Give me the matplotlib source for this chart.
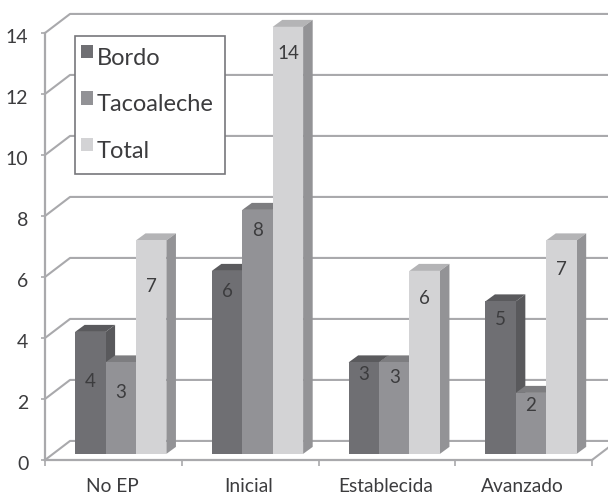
import matplotlib
matplotlib.use('Agg')
import matplotlib.pyplot as plt
from matplotlib.patches import Patch, Polygon, Rectangle
from matplotlib.transforms import ScaledTranslation

plt.rcParams['font.family'] = ['Lato', 'DejaVu Sans']

stages = ['No EP', 'Inicial', 'Establecida', 'Avanzado']
bordo = [4, 6, 3, 5]
tacoaleche = [3, 8, 3, 2]
total = [7, 14, 6, 7]
yticks = [0, 2, 4, 6, 8, 10, 12, 14]

# distance of each value label below its bar top, in points
label_drop = {
    'Bordo': [36, 15, 9, 13],
    'Tacoaleche': [22, 15, 11, 9],
    'Total': [33, 19, 20, 21],
}

GREY_LINE = '#a9a9ac'
GREY_TEXT = '#3c3c3e'

# fake 3d: wall offset and bar depth, in data units
WALL_DX, WALL_DY = 0.183, 0.625
BAR_DX, BAR_DY = 0.07, 0.23
FLOOR = 0.2
BAR_W = 0.2225
GROUP_START = 0.22


def drawWalls(ax):
    for y in yticks:
        xs = [0, WALL_DX, 4.3]
        ys = [y, y + WALL_DY, y + WALL_DY]
        ax.plot(xs, ys, color=GREY_LINE, lw=1.5, zorder=1, clip_on=False)
    # right end of the floor
    ax.plot([4, 4 + WALL_DX], [0, WALL_DY], color=GREY_LINE, lw=1.5, zorder=1, clip_on=False)


def drawSeries(ax, values, slot, front, top, side, z):
    lefts = [i + GROUP_START + slot * BAR_W for i in range(len(values))]
    for x, v in zip(lefts, values):
        y1 = FLOOR + v
        ax.add_patch(Polygon([(x, y1), (x + BAR_DX, y1 + BAR_DY),
                              (x + BAR_W + BAR_DX, y1 + BAR_DY), (x + BAR_W, y1)],
                             facecolor=top, edgecolor='none', zorder=z, clip_on=False))
        ax.add_patch(Polygon([(x + BAR_W, FLOOR), (x + BAR_W + BAR_DX, FLOOR + BAR_DY),
                              (x + BAR_W + BAR_DX, y1 + BAR_DY), (x + BAR_W, y1)],
                             facecolor=side, edgecolor='none', zorder=z, clip_on=False))
    ax.bar(lefts, values, BAR_W, bottom=FLOOR, align='edge', color=front,
           zorder=z + 0.5, clip_on=False)
    return lefts


def drawLabels(ax, lefts, values, drops, z):
    for x, v, d in zip(lefts, values, drops):
        ax.annotate(str(v), (x + BAR_W / 2, FLOOR + v), xytext=(0, -d),
                    textcoords='offset points', ha='center', va='center',
                    fontsize=13.5, color=GREY_TEXT, zorder=z, annotation_clip=False)


def plotData():
    fig = plt.figure(figsize=(6.08, 4.95), dpi=100)
    ax = fig.add_axes([45 / 608, 35 / 495, 547 / 608, 427 / 495])
    ax.set_xlim(0, 4)
    ax.set_ylim(0, 14)

    drawWalls(ax)

    series = [
        ('Bordo', bordo, '#6f6f73', '#5a5a5d', '#59595c'),
        ('Tacoaleche', tacoaleche, '#929296', '#7d7d80', '#7d7d80'),
        ('Total', total, '#d3d3d5', '#b4b4b6', '#939396'),
    ]
    handles = []
    for slot, (name, values, front, top, side) in enumerate(series):
        z = 3 + slot
        lefts = drawSeries(ax, values, slot, front, top, side, z)
        drawLabels(ax, lefts, values, label_drop[name], 10)
        handles.append(Patch(facecolor=front, label=name))

    # legend box
    ax.add_patch(Rectangle((0.22, 9.38), 1.097, 4.52, facecolor='white',
                           edgecolor='#77777b', lw=1.2, zorder=7, clip_on=False))
    leg = ax.legend(handles=handles, loc='upper left', bbox_to_anchor=(0.215, 13.75),
                    bbox_transform=ax.transData, frameon=False, fontsize=17,
                    handlelength=0.5, handleheight=0.5, handletextpad=0.15,
                    labelspacing=1.08, borderpad=0, borderaxespad=0.3,
                    labelcolor=GREY_TEXT)
    leg.set_zorder(8)
    # swatches sit a little above the text centre
    for h in leg.legend_handles:
        h.set_y(h.get_y() + 3.6)

    for s in ['top', 'right']:
        ax.spines[s].set_visible(False)
    for s in ['left', 'bottom']:
        ax.spines[s].set_color(GREY_LINE)
        ax.spines[s].set_linewidth(1.6)

    ax.set_yticks(yticks)
    ax.tick_params(axis='y', length=3, width=1.2, color=GREY_LINE, pad=9,
                   labelsize=14, labelcolor=GREY_TEXT)
    shift = ScaledTranslation(0, -3 / 100, fig.dpi_scale_trans)
    for lbl in ax.get_yticklabels():
        lbl.set_transform(lbl.get_transform() + shift)
    ax.set_xticks(range(5))
    ax.set_xticklabels([])
    ax.tick_params(axis='x', which='major', length=4, width=1.2, color=GREY_LINE)
    ax.set_xticks([i + 0.49 for i in range(4)], minor=True)
    ax.set_xticklabels(stages, minor=True)
    ax.tick_params(axis='x', which='minor', length=0, pad=13,
                   labelsize=13.8, labelcolor=GREY_TEXT)

    fig.savefig('out.png', dpi=100)


if __name__ == '__main__':
    plotData()
